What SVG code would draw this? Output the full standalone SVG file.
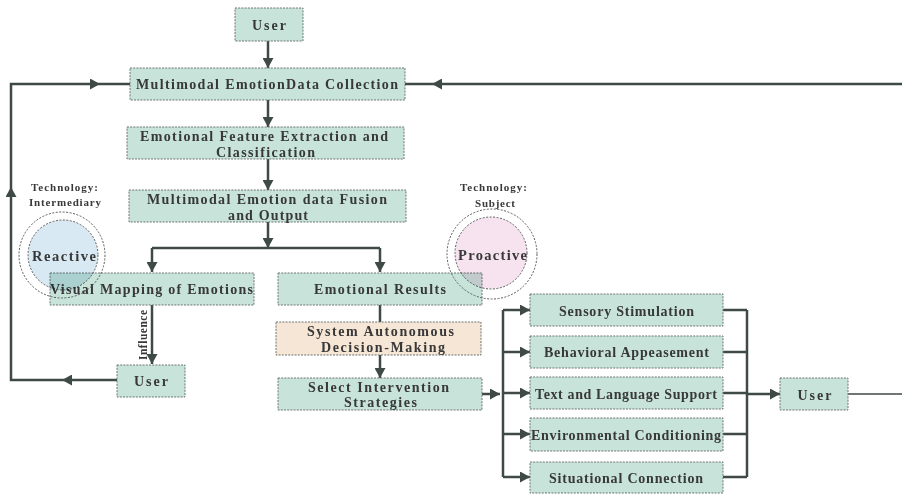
<svg xmlns="http://www.w3.org/2000/svg" width="902" height="495" viewBox="0 0 902 495">
  <defs>
    <marker id="arrow" markerUnits="userSpaceOnUse" markerWidth="11" markerHeight="11" refX="10" refY="5.5" orient="auto">
      <path d="M0,0 L10,5.5 L0,11 Z" fill="#3f4a47"/>
    </marker>
    <style>
      .box { fill: #c8e4da; stroke: #6c7571; stroke-width: 1; stroke-dasharray: 2 1.2; }
      .peach { fill: #f6e6d6; }
      .lbl { font-family: "Liberation Serif", "DejaVu Serif", serif; font-weight: bold; font-size: 14px; fill: #383838; text-anchor: middle; }
      .small { font-size: 11px; }
      .big { font-size: 14.5px; }
      .inf { font-size: 11.5px; }
      .wire { fill: none; stroke: #3f4a47; stroke-width: 2.5; }
      .thin { stroke-width: 1.6; }
      .arr { marker-end: url(#arrow); }
      .ring { fill: none; stroke: #5a5a5a; stroke-width: 1; stroke-dasharray: 2 1.5; }
      .core { stroke: #5a5a5a; stroke-width: 1; stroke-dasharray: 2 1.5; mix-blend-mode: multiply; }
    </style>
  </defs>
  <rect width="902" height="495" fill="#ffffff"/>

  <!-- connectors -->
  <g id="connectors">
    <path class="wire arr" d="M268,41 V68"/>
    <path class="wire arr" d="M268,100 V127"/>
    <path class="wire arr" d="M268,159 V190"/>
    <path class="wire arr" d="M268,222 V248"/>
    <path class="wire" d="M152,248 H380"/>
    <path class="wire arr" d="M152,248 V272"/>
    <path class="wire arr" d="M380,248 V272"/>
    <path class="wire arr" d="M152,305 V364"/>
    <path class="wire" d="M380,305 V322"/>
    <path class="wire arr" d="M380,355 V378"/>
    <path class="wire arr" d="M482,394 H500"/>
    <path class="wire" d="M503,310 V477"/>
    <path class="wire arr" d="M503,310 H530"/>
    <path class="wire arr" d="M503,352 H530"/>
    <path class="wire arr" d="M503,393 H530"/>
    <path class="wire arr" d="M503,434 H530"/>
    <path class="wire arr" d="M503,477 H530"/>
    <path class="wire" d="M723,310 H747 M723,352 H747 M723,393 H747 M723,434 H747 M723,477 H747"/>
    <path class="wire" d="M747,310 V477"/>
    <path class="wire arr" d="M747,394 H780"/>
    <path class="wire thin" d="M848,394 H902"/>
    <!-- feedback from the right edge -->
    <path class="wire arr" d="M902,84 H432"/>
    <path class="wire" d="M432,84 H405"/>
    <!-- feedback loop on the left -->
    <path class="wire arr" d="M117,380 H62"/>
    <path class="wire arr" d="M62,380 H11 V187"/>
    <path class="wire arr" d="M11,187 V84 H100"/>
    <path class="wire" d="M100,84 H130"/>
  </g>

  <g id="user-top">
    <rect class="box" x="235" y="8" width="68" height="33"/>
    <text class="lbl" x="269" y="29.5" textLength="34" lengthAdjust="spacing">User</text>
  </g>
  <g id="collection">
    <rect class="box" x="130" y="68" width="275" height="32"/>
    <text class="lbl" x="267" y="89" textLength="262" lengthAdjust="spacing">Multimodal EmotionData Collection</text>
  </g>
  <g id="extraction">
    <rect class="box" x="127" y="127" width="277" height="32"/>
    <text class="lbl" x="264" y="141" textLength="248" lengthAdjust="spacing">Emotional Feature Extraction and</text>
    <text class="lbl" x="265.5" y="157" textLength="99" lengthAdjust="spacing">Classification</text>
  </g>
  <g id="fusion">
    <rect class="box" x="129" y="190" width="277" height="32"/>
    <text class="lbl" x="267" y="204" textLength="240" lengthAdjust="spacing">Multimodal Emotion data Fusion</text>
    <text class="lbl" x="268" y="220" textLength="80" lengthAdjust="spacing">and Output</text>
  </g>
  <g id="visual-mapping">
    <rect class="box" x="50" y="273" width="204" height="32"/>
    <text class="lbl" x="151.5" y="294" textLength="203" lengthAdjust="spacing">Visual Mapping of Emotions</text>
  </g>
  <g id="emotional-results">
    <rect class="box" x="278" y="273" width="204" height="32"/>
    <text class="lbl" x="380" y="294" textLength="132" lengthAdjust="spacing">Emotional Results</text>
  </g>
  <g id="autonomous-decision">
    <rect class="box peach" x="276" y="322" width="205" height="33"/>
    <text class="lbl" x="380.5" y="336" textLength="147" lengthAdjust="spacing">System Autonomous</text>
    <text class="lbl" x="383" y="352" textLength="124" lengthAdjust="spacing">Decision-Making</text>
  </g>
  <g id="select-strategies">
    <rect class="box" x="278" y="378" width="204" height="32"/>
    <text class="lbl" x="378.5" y="392" textLength="141" lengthAdjust="spacing">Select Intervention</text>
    <text class="lbl" x="380.5" y="407" textLength="73" lengthAdjust="spacing">Strategies</text>
  </g>
  <g id="user-left">
    <rect class="box" x="117" y="365" width="68" height="32"/>
    <text class="lbl" x="151" y="386" textLength="34" lengthAdjust="spacing">User</text>
  </g>
  <text class="lbl inf" transform="translate(147,335) rotate(-90)" textLength="50" lengthAdjust="spacing">Influence</text>

  <g id="sensory">
    <rect class="box" x="530" y="294" width="193" height="32"/>
    <text class="lbl" x="626.5" y="315.5" textLength="135" lengthAdjust="spacing">Sensory Stimulation</text>
  </g>
  <g id="behavioral">
    <rect class="box" x="530" y="336" width="193" height="32"/>
    <text class="lbl" x="626.5" y="357" textLength="165" lengthAdjust="spacing">Behavioral Appeasement</text>
  </g>
  <g id="language">
    <rect class="box" x="530" y="377" width="193" height="32"/>
    <text class="lbl" x="626" y="398.5" textLength="182" lengthAdjust="spacing">Text and Language Support</text>
  </g>
  <g id="environmental">
    <rect class="box" x="530" y="418" width="193" height="33"/>
    <text class="lbl" x="626" y="439.5" textLength="190" lengthAdjust="spacing">Environmental Conditioning</text>
  </g>
  <g id="situational">
    <rect class="box" x="530" y="462" width="193" height="31"/>
    <text class="lbl" x="626" y="482.5" textLength="154" lengthAdjust="spacing">Situational Connection</text>
  </g>
  <g id="user-right">
    <rect class="box" x="780" y="378" width="68" height="32"/>
    <text class="lbl" x="814.5" y="399.5" textLength="34" lengthAdjust="spacing">User</text>
  </g>

  <g id="reactive">
    <text class="lbl small" x="64.5" y="191" textLength="67" lengthAdjust="spacing">Technology:</text>
    <text class="lbl small" x="65" y="206" textLength="72" lengthAdjust="spacing">Intermediary</text>
    <circle class="ring" cx="62" cy="255" r="43"/>
    <circle class="core" cx="63" cy="255" r="35" fill="#d9e9f4"/>
    <text class="lbl big" x="64" y="261" textLength="64" lengthAdjust="spacing">Reactive</text>
  </g>
  <g id="proactive">
    <text class="lbl small" x="493.5" y="191" textLength="67" lengthAdjust="spacing">Technology:</text>
    <text class="lbl small" x="495" y="207" textLength="40" lengthAdjust="spacing">Subject</text>
    <circle class="ring" cx="492" cy="254" r="45"/>
    <circle class="core" cx="491" cy="253" r="36" fill="#f6e3ef"/>
    <text class="lbl big" x="492.5" y="259.5" textLength="69" lengthAdjust="spacing">Proactive</text>
  </g>
</svg>
